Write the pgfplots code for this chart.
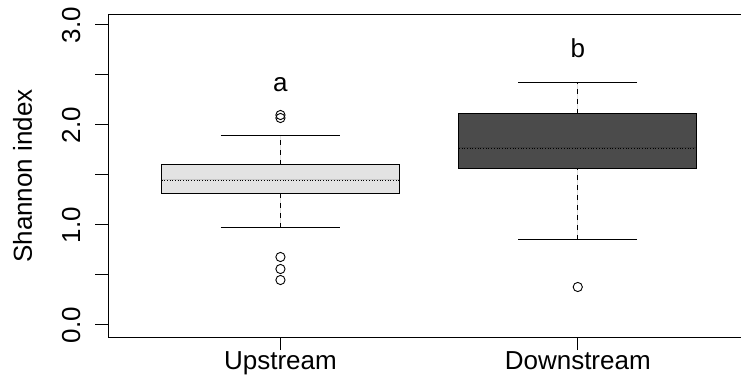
\documentclass[border=0pt]{standalone}
\usepackage{pgfplots}
\pgfplotsset{compat=1.18}
\usepgfplotslibrary{statistics}
\usepackage{fontspec}
\setmainfont{Liberation Sans}

\definecolor{upfill}{HTML}{E3E3E3}
\definecolor{downfill}{HTML}{4B4B4B}
\newcommand{\rfont}{\fontsize{26bp}{31bp}\selectfont}

% R-style boxplot: dashed whisker stems, solid caps half the box width,
% dotted median
\pgfplotsset{
  rbox/.style={
    boxplot/draw direction=y,
    boxplot/box extend=0.8,
    boxplot/every box/.style={draw=black, line width=1bp},
    boxplot/every median/.style={black, line width=0.7bp, dotted},
    boxplot/draw/lower whisker/.code={%
      \draw[black, line width=0.9bp, dash pattern=on 5bp off 5bp]
        (boxplot box cs:\pgfplotsboxplotvalue{lower whisker},0.5) --
        (boxplot box cs:\pgfplotsboxplotvalue{lower quartile},0.5);
      \draw[black, line width=1bp]
        (boxplot box cs:\pgfplotsboxplotvalue{lower whisker},0.25) --
        (boxplot box cs:\pgfplotsboxplotvalue{lower whisker},0.75);
    },
    boxplot/draw/upper whisker/.code={%
      \draw[black, line width=0.9bp, dash pattern=on 5bp off 5bp]
        (boxplot box cs:\pgfplotsboxplotvalue{upper quartile},0.5) --
        (boxplot box cs:\pgfplotsboxplotvalue{upper whisker},0.5);
      \draw[black, line width=1bp]
        (boxplot box cs:\pgfplotsboxplotvalue{upper whisker},0.25) --
        (boxplot box cs:\pgfplotsboxplotvalue{upper whisker},0.75);
    },
    mark=o, mark size=4.6bp,
    mark options={solid, draw=black, fill=none, line width=0.9bp},
  }
}

\begin{document}
\begin{tikzpicture}
\useasboundingbox (0,0) rectangle (741bp,385bp);
\begin{axis}[
  at={(108bp,48bp)}, anchor=south west,
  scale only axis, width=633bp, height=322bp,
  xmin=0.42, xmax=2.549, ymin=-0.12, ymax=3.10,
  axis x line=box, axis y line=left,
  x axis line style={-, line width=1bp, black},
  y axis line style={-, line width=1bp, black},
  xtick pos=bottom, ytick pos=left,
  tick align=outside, major tick length=13bp,
  tick style={black, line width=1bp},
  xtick={1,2}, xticklabels={Upstream,Downstream},
  ytick={0,0.5,1,1.5,2,2.5,3},
  yticklabels={0.0,,1.0,,2.0,,3.0},
  ticklabel style={font=\rfont},
  xticklabel style={yshift=2bp},
  yticklabel style={rotate=90, anchor=south, yshift=11bp},
  ylabel={Shannon index},
  ylabel style={font=\rfont, yshift=23bp},
  /pgf/number format/assume math mode=true,
  clip=false,
]
\addplot+[rbox, fill=upfill, draw=black,
  boxplot prepared={draw position=1,
    lower whisker=0.97, lower quartile=1.31, median=1.45,
    upper quartile=1.60, upper whisker=1.89}]
  coordinates {(0,2.10) (0,2.07) (0,0.68) (0,0.56) (0,0.45)};
\addplot+[rbox, fill=downfill, draw=black,
  boxplot prepared={draw position=2,
    lower whisker=0.85, lower quartile=1.56, median=1.77,
    upper quartile=2.11, upper whisker=2.42}]
  coordinates {(0,0.38)};
\node[font=\rfont] at (axis cs:1,2.40) {a};
\node[font=\rfont] at (axis cs:2,2.77) {b};
\end{axis}
\end{tikzpicture}
\end{document}
